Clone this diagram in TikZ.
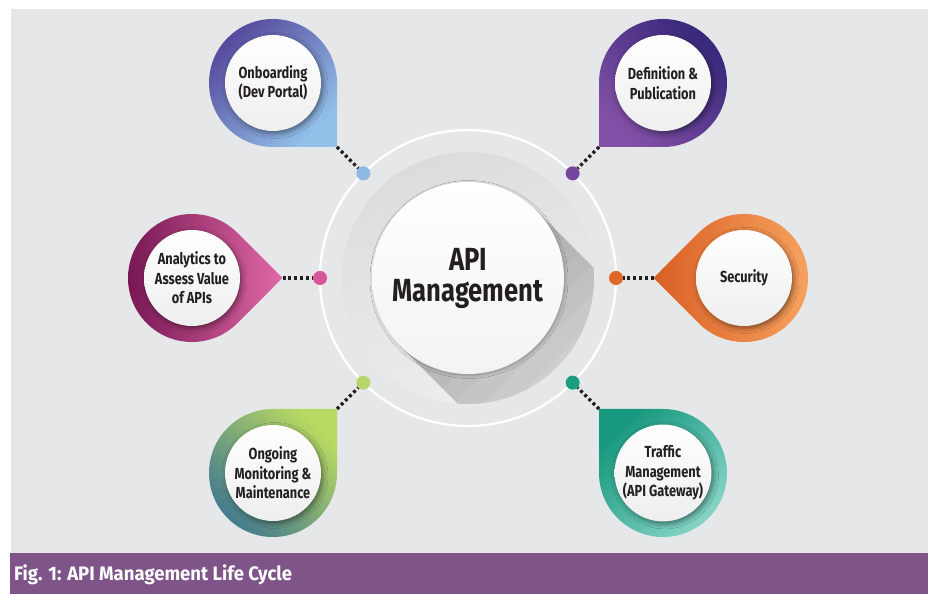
\documentclass[tikz,border=0pt]{standalone}
\usepackage{fontspec}
\setmainfont{Fira Sans}
\newfontfamily\pinfont[FakeStretch=0.8]{Fira Sans}
\newfontfamily\capfont[FakeStretch=0.95]{Fira Sans}
\usetikzlibrary{calc,shadows.blur}

\definecolor{pagegray}{HTML}{E6E7E8}
\definecolor{capbar}{HTML}{7F5489}
\definecolor{ink}{HTML}{231F20}
\definecolor{hubdark}{HTML}{DBDCDE}
\definecolor{hublight}{HTML}{EDEEEF}
\definecolor{discgray}{HTML}{EEEEEF}
% pin colours: dark end, light end, dot
\definecolor{onbA}{HTML}{564A9D}
\definecolor{onbB}{HTML}{92C1E9}
\definecolor{onbdot}{HTML}{8FB9E3}
\definecolor{defA}{HTML}{36287A}
\definecolor{defB}{HTML}{8250A6}
\definecolor{defdot}{HTML}{7647A0}
\definecolor{anaA}{HTML}{741550}
\definecolor{anaB}{HTML}{E068A6}
\definecolor{anadot}{HTML}{D6589B}
\definecolor{secA}{HTML}{D95F24}
\definecolor{secB}{HTML}{F8A461}
\definecolor{secdot}{HTML}{E0662A}
\definecolor{ongA}{HTML}{B8D962}
\definecolor{ongB}{HTML}{447A8E}
\definecolor{ongdot}{HTML}{B5D66A}
\definecolor{traA}{HTML}{17987E}
\definecolor{traM}{HTML}{12B19C}
\definecolor{traB}{HTML}{86D4C6}
\definecolor{tradot}{HTML}{1B9E80}

\begin{document}
\begin{tikzpicture}
    [x=1pt, y=1pt, line join=round,
    every node/.style={inner sep=0pt},
    topic/.style={circle, minimum size=96pt, top color=white, bottom color=discgray,
      align=center, text=ink, font=\pinfont\bfseries\fontsize{16}{19.5}\selectfont,
      blur shadow={shadow xshift=2pt, shadow yshift=-2.5pt, shadow blur radius=5pt, shadow opacity=45}},
    dot/.style={circle, minimum size=14pt},
    link/.style={ink, line width=3.2pt, dash pattern=on 3pt off 2.8pt}]
    \useasboundingbox (0,0) rectangle (932,594);
    \fill[pagegray] (11,41) rectangle (928,585);
    \fill[capbar] (10,0) rectangle (928,41);
    \node[anchor=base west, text=white, font=\capfont\bfseries\fontsize{19.5}{22}\selectfont] (cap) at (14,13) {Fig. 1: API Management Life Cycle};

    % centre disc with its long shadow
    \coordinate (hub) at (468,316);
    \shade[top color=hubdark, bottom color=hublight, shading angle=20] (hub) circle[radius=126pt];
    \begin{scope}
      \clip (hub) circle[radius=126pt];
      \foreach \d in {20,40,...,220}
        \fill[black, opacity=0.022] ($(hub)+(45:96)$) -- ++(-45:\d) -- ($(hub)+(225:96)+(-45:\d)$) -- ($(hub)+(225:96)$) -- cycle;
    \end{scope}
    \draw[white, line width=2.4pt] (hub) circle[radius=148pt];
    \node[circle, minimum size=192pt, top color=white, bottom color=discgray!70, align=center, text=ink,
      font=\pinfont\bfseries\fontsize{32}{31}\selectfont,
      blur shadow={shadow xshift=1pt, shadow yshift=-1.5pt, shadow blur radius=3pt, shadow opacity=25}]
      (api) at (hub) {API\\Management};

    % pins
    \coordinate (onb) at (273,511);
    \coordinate (onb-tip) at (337,447);
    \shade[top color=onbA, bottom color=onbB, shading angle=45]
      (onb-tip) -- ($(onb)+(0:64)$) arc[start angle=0, delta angle=270, radius=64pt] -- cycle;
    \coordinate (def) at (663,511);
    \coordinate (def-tip) at (599,447);
    \shade[top color=defA, bottom color=defB, shading angle=-45]
      (def-tip) -- ($(def)+(270:64)$) arc[start angle=270, delta angle=270, radius=64pt] -- cycle;
    \coordinate (ana) at (192,316);
    \coordinate (ana-tip) at (282.5,316);
    \shade[top color=anaA, bottom color=anaB, shading angle=90]
      (ana-tip) -- ($(ana)+(45:64)$) arc[start angle=45, delta angle=270, radius=64pt] -- cycle;
    \coordinate (sec) at (744,316);
    \coordinate (sec-tip) at (653.5,316);
    \shade[top color=secA, bottom color=secB, shading angle=90]
      (sec-tip) -- ($(sec)+(225:64)$) arc[start angle=225, delta angle=270, radius=64pt] -- cycle;
    \coordinate (ong) at (273,121);
    \coordinate (ong-tip) at (337,185);
    \shade[top color=ongA, bottom color=ongB, shading angle=-45]
      (ong-tip) -- ($(ong)+(90:64)$) arc[start angle=90, delta angle=270, radius=64pt] -- cycle;
    \coordinate (tra) at (663,121);
    \coordinate (tra-tip) at (599,185);
    \shade[top color=traA, middle color=traM, bottom color=traB, shading angle=45]
      (tra-tip) -- ($(tra)+(180:64)$) arc[start angle=180, delta angle=270, radius=64pt] -- cycle;

    \node[topic] (onb-txt) at (onb) {Onboarding\\(Dev Portal)};
    \node[topic] (def-txt) at (def) {Definition \&\\Publication};
    \node[topic] (ana-txt) at (ana) {Analytics to\\Assess Value\\of APIs};
    \node[topic] (sec-txt) at (sec) {Security};
    \node[topic] (ong-txt) at (ong) {Ongoing\\Monitoring \&\\Maintenance};
    \node[topic] (tra-txt) at (tra) {Traffic\\Management\\(API Gateway)};

    % dots on the ring
    \node[dot, fill=onbdot] (onb-dot) at ($(hub)+(135:148)$) {};
    \node[dot, fill=defdot] (def-dot) at ($(hub)+(45:148)$) {};
    \node[dot, fill=anadot] (ana-dot) at ($(hub)+(180:148)$) {};
    \node[dot, fill=secdot] (sec-dot) at ($(hub)+(0:148)$) {};
    \node[dot, fill=ongdot] (ong-dot) at ($(hub)+(225:148)$) {};
    \node[dot, fill=tradot] (tra-dot) at ($(hub)+(-45:148)$) {};

    \draw[link] (onb-tip) -- (onb-dot);
    \draw[link] (def-tip) -- (def-dot);
    \draw[link] (ana-tip) -- (ana-dot);
    \draw[link] (sec-tip) -- (sec-dot);
    \draw[link] (ong-tip) -- (ong-dot);
    \draw[link] (tra-tip) -- (tra-dot);
\end{tikzpicture}
\end{document}
